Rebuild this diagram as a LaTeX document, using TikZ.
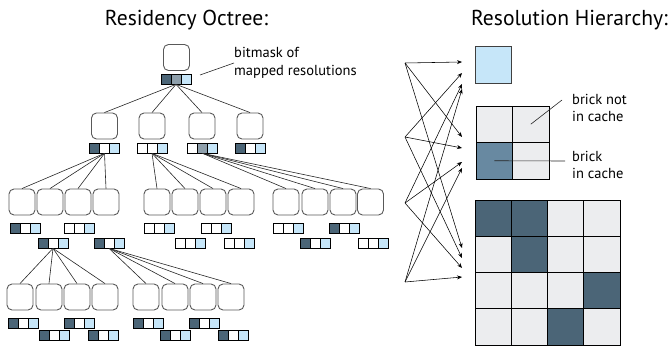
\documentclass[tikz,border=0pt]{standalone}
\usepackage{fontspec}
\setmainfont{PT Sans}
\usetikzlibrary{arrows.meta}
\definecolor{bitdark}{HTML}{4B6577}
\definecolor{bitmid}{HTML}{8E9FAB}
\definecolor{bitlight}{HTML}{C6E6F9}
\definecolor{brickgrey}{HTML}{ECEDEF}
\definecolor{brickblue}{HTML}{6889A1}

\begin{document}
\begin{tikzpicture}[x=1pt,y=-1pt]
    \tikzset{
        octbox/.style={draw=black!65,rounded corners=5pt,minimum size=26pt,inner sep=0pt,line width=0.9pt},
        bits/.style n args={3}{draw=black,line width=0.7pt,minimum width=30pt,minimum height=10pt,inner sep=0pt,
            path picture={
                \fill[#1] (path picture bounding box.south west) rectangle ([xshift=10pt]path picture bounding box.north west);
                \fill[#2] ([xshift=10pt]path picture bounding box.south west) rectangle ([xshift=20pt]path picture bounding box.north west);
                \fill[#3] ([xshift=20pt]path picture bounding box.south west) rectangle (path picture bounding box.north east);
                \draw[line width=0.7pt] ([xshift=10pt]path picture bounding box.south west) -- ([xshift=10pt]path picture bounding box.north west)
                    ([xshift=20pt]path picture bounding box.south west) -- ([xshift=20pt]path picture bounding box.north west);}},
        link/.style={draw=black!85,line width=0.6pt},
        ptr/.style={-{Stealth[length=5pt,width=4pt]},line width=0.55pt},
        brick/.style={draw=black,line width=0.9pt,minimum size=36.5pt,inner sep=0pt,fill=brickgrey},
        lbl/.style={font=\fontsize{14.5}{17.5}\selectfont,align=left,inner sep=0pt,anchor=west},
        ttl/.style={font=\fontsize{21.6}{24}\selectfont,anchor=base}}
    \useasboundingbox (0,0) rectangle (668,347);

    \node[ttl] (octtitle) at (186.5,26) {Residency Octree:};
    \node[ttl] (hiertitle) at (569.5,26) {Resolution Hierarchy:};

    % residency octree
    \node[octbox] (r) at (176.5,57.5) {};
    \node[bits={bitdark}{bitmid}{bitlight}] (mr) at (176,79) {};
    \node[lbl] (masklbl) at (234,63) {bitmask of\\mapped resolutions};
    \coordinate (maskfrom) at (200,75);
    \draw[link] (maskfrom) -- (masklbl.west);

    \node[octbox] (a1) at (104.5,126) {};
    \node[octbox] (a2) at (152,126) {};
    \node[octbox] (a3) at (202,126) {};
    \node[octbox] (a4) at (250,126) {};
    \node[bits={bitdark}{white}{bitlight}] (ma1) at (104.5,148) {};
    \node[bits={white}{white}{bitlight}] (ma2) at (152,148) {};
    \node[bits={white}{bitmid}{bitlight}] (ma3) at (202.5,148) {};
    \node[bits={bitdark}{white}{bitlight}] (ma4) at (250.5,148) {};
    \foreach \i in {1,...,4} \draw[link] (mr.south) -- (a\i.north);

    \foreach \x [count=\i] in {22,50,78,106} \node[octbox] (b1\i) at (\x,202) {};
    \foreach \x [count=\i] in {157,185,213,241} \node[octbox] (b2\i) at (\x,202) {};
    \foreach \x [count=\i] in {286,315,343,370.5} \node[octbox] (b3\i) at (\x,202) {};
    \node[bits={bitdark}{white}{bitlight}] (mb11) at (25.5,228) {};
    \node[bits={bitdark}{white}{bitlight}] (mb12) at (53,243) {};
    \node[bits={white}{white}{bitlight}] (mb13) at (79.5,228) {};
    \node[bits={bitdark}{white}{bitlight}] (mb14) at (109,243) {};
    \node[bits={white}{white}{bitlight}] (mb21) at (159.5,228) {};
    \node[bits={white}{white}{bitlight}] (mb22) at (190.5,243) {};
    \node[bits={white}{white}{bitlight}] (mb23) at (216.5,228) {};
    \node[bits={white}{white}{bitlight}] (mb24) at (239,243) {};
    \node[bits={white}{white}{bitlight}] (mb31) at (288,228) {};
    \node[bits={bitdark}{white}{bitlight}] (mb32) at (315.5,243) {};
    \node[bits={bitdark}{white}{bitlight}] (mb33) at (344,228) {};
    \node[bits={white}{white}{bitlight}] (mb34) at (373.5,243) {};
    \foreach \g in {1,2,3} \foreach \i in {1,...,4} \draw[link] (ma\g.south) -- (b\g\i.north);

    \foreach \x [count=\i] in {20,49,77,105} \node[octbox] (c1\i) at (\x,297) {};
    \foreach \x [count=\i] in {146,175,203,231} \node[octbox] (c2\i) at (\x,297) {};
    \foreach \x/\y [count=\i] in {23/323,54.5/335,79.5/323,103/335} \node[bits={bitdark}{white}{bitlight}] (mc1\i) at (\x,\y) {};
    \foreach \x/\y [count=\i] in {148/323,175.5/335,204/323,233.5/335} \node[bits={bitdark}{white}{bitlight}] (mc2\i) at (\x,\y) {};
    \foreach \i in {1,...,4} {
        \draw[link] (mb12.south) -- (c1\i.north);
        \draw[link] (mb14.south) -- (c2\i.north);}

    % pointers into the hierarchy
    \foreach \y [count=\i] in {63,137,203,282} \coordinate (src\i) at (405,\y);
    \foreach \y [count=\i] in {62,73,84,89} \coordinate (dst0\i) at (462,\y);
    \foreach \y [count=\i] in {137,148,162,168} \coordinate (dst1\i) at (462,\y);
    \foreach \y [count=\i] in {248,258,268,277} \coordinate (dst2\i) at (462,\y);
    \foreach \i in {1,...,4} \foreach \l in {0,1,2} \draw[ptr] (src\i) -- (dst\l\i);

    % resolution hierarchy
    \node[draw=black!75,line width=0.9pt,fill=bitlight,minimum size=36.5pt] (lvl0) at (493.5,65) {};
    \node[brick] (q11) at (494.25,124.25) {};
    \node[brick] (q12) at (530.75,124.25) {};
    \node[brick,fill=brickblue] (q21) at (494.25,160.75) {};
    \node[brick] (q22) at (530.75,160.75) {};
    \node[lbl] (notcache) at (572,108) {brick not\\in cache};
    \node[lbl] (incache) at (572,165) {brick\\in cache};
    \coordinate (notend) at (562,100);
    \coordinate (inend) at (565,161);
    \draw[link] (q12.center) -- (notend);
    \draw[link] (q21.center) -- (inend);

    \foreach \i in {0,...,3} \foreach \j in {0,...,3}
        \node[brick,minimum size=36.25pt] (g\i\j) at ({493.1+36.25*\i},{218.1+36.25*\j}) {};
    \foreach \i/\j in {0/0,1/0,1/1,3/2,2/3}
        \node[brick,minimum size=36.25pt,fill=bitdark] at ({493.1+36.25*\i},{218.1+36.25*\j}) {};
\end{tikzpicture}
\end{document}
